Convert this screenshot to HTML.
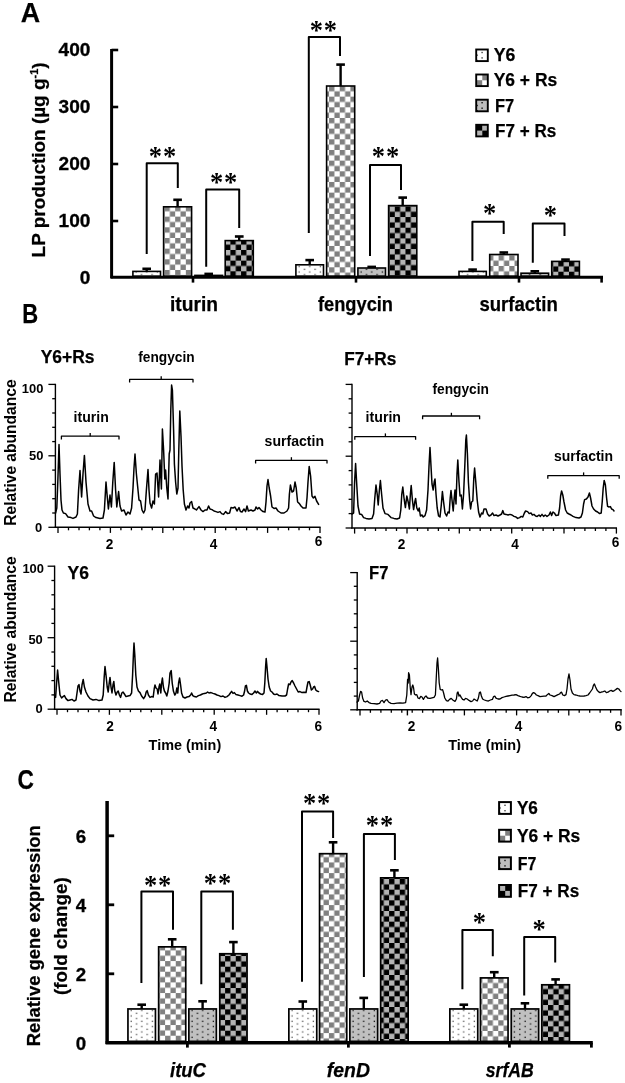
<!DOCTYPE html>
<html lang="en"><head><meta charset="utf-8"><title>Figure</title>
<style>html,body{margin:0;padding:0;background:#fff}svg{display:block}</style></head>
<body>
<svg width="625" height="1083" viewBox="0 0 625 1083">
<defs>
<pattern id="ck1" width="10.666" height="10.666" patternUnits="userSpaceOnUse"><rect width="10.666" height="10.666" fill="#fff"/><rect x="0" y="0" width="5.333" height="5.333" fill="#808080"/><rect x="5.333" y="5.333" width="5.333" height="5.333" fill="#808080"/></pattern>
<pattern id="ck2" width="10.666" height="10.666" patternUnits="userSpaceOnUse"><rect width="10.666" height="10.666" fill="#b4b4b4"/><rect x="0" y="0" width="5.333" height="5.333" fill="#000"/><rect x="5.333" y="5.333" width="5.333" height="5.333" fill="#000"/></pattern>
<pattern id="dt1" width="10.666" height="5.333" patternUnits="userSpaceOnUse"><rect width="10.666" height="5.333" fill="#fff"/><rect x="2.6" y="0.6" width="1.25" height="1.25" fill="#484848"/><rect x="7.933" y="3.267" width="1.25" height="1.25" fill="#484848"/></pattern>
<pattern id="dt2" width="10.666" height="5.333" patternUnits="userSpaceOnUse"><rect width="10.666" height="5.333" fill="#c0c0c0"/><rect x="2.6" y="0.6" width="1.25" height="1.25" fill="#000"/><rect x="7.933" y="3.267" width="1.25" height="1.25" fill="#000"/></pattern>
</defs>
<rect width="625" height="1083" fill="#fff"/>
<text x="20.8" y="22.3" font-size="27.29" font-weight="bold" font-style="normal" text-anchor="start" fill="#000" font-family='"Liberation Sans", sans-serif' textLength="19.4" lengthAdjust="spacingAndGlyphs" stroke="#000" stroke-width="0.25">A</text>
<line x1="111.6" y1="49.0" x2="111.6" y2="278.3" stroke="#000" stroke-width="3" stroke-linecap="butt"/>
<line x1="110.6" y1="277.3" x2="603.0" y2="277.3" stroke="#000" stroke-width="3" stroke-linecap="butt"/>
<line x1="111.6" y1="50.0" x2="118.2" y2="50.0" stroke="#000" stroke-width="2.6" stroke-linecap="butt"/>
<text x="90.4" y="56.4" font-size="18.2" font-weight="bold" font-style="normal" text-anchor="end" fill="#000" font-family='"Liberation Sans", sans-serif' stroke="#000" stroke-width="0.3" textLength="31.8" lengthAdjust="spacingAndGlyphs">400</text>
<line x1="111.6" y1="107.0" x2="118.2" y2="107.0" stroke="#000" stroke-width="2.6" stroke-linecap="butt"/>
<text x="90.4" y="113.4" font-size="18.2" font-weight="bold" font-style="normal" text-anchor="end" fill="#000" font-family='"Liberation Sans", sans-serif' stroke="#000" stroke-width="0.3" textLength="31.8" lengthAdjust="spacingAndGlyphs">300</text>
<line x1="111.6" y1="164.0" x2="118.2" y2="164.0" stroke="#000" stroke-width="2.6" stroke-linecap="butt"/>
<text x="90.4" y="170.4" font-size="18.2" font-weight="bold" font-style="normal" text-anchor="end" fill="#000" font-family='"Liberation Sans", sans-serif' stroke="#000" stroke-width="0.3" textLength="31.8" lengthAdjust="spacingAndGlyphs">200</text>
<line x1="111.6" y1="221.0" x2="118.2" y2="221.0" stroke="#000" stroke-width="2.6" stroke-linecap="butt"/>
<text x="90.4" y="227.4" font-size="18.2" font-weight="bold" font-style="normal" text-anchor="end" fill="#000" font-family='"Liberation Sans", sans-serif' stroke="#000" stroke-width="0.3" textLength="31.8" lengthAdjust="spacingAndGlyphs">100</text>
<text x="90.4" y="284.4" font-size="18.2" font-weight="bold" font-style="normal" text-anchor="end" fill="#000" font-family='"Liberation Sans", sans-serif' stroke="#000" stroke-width="0.3" textLength="10.6" lengthAdjust="spacingAndGlyphs">0</text>
<line x1="193.0" y1="277.3" x2="193.0" y2="282.6" stroke="#000" stroke-width="2.6" stroke-linecap="butt"/>
<line x1="356.0" y1="277.3" x2="356.0" y2="282.6" stroke="#000" stroke-width="2.6" stroke-linecap="butt"/>
<line x1="519.0" y1="277.3" x2="519.0" y2="282.6" stroke="#000" stroke-width="2.6" stroke-linecap="butt"/>
<line x1="601.6" y1="277.3" x2="601.6" y2="282.6" stroke="#000" stroke-width="2.6" stroke-linecap="butt"/>
<text transform="translate(45.2,257.4) rotate(-90)" font-size="19" stroke="#000" stroke-width="0.25" font-weight="bold" font-family='"Liberation Sans", sans-serif' textLength="195" lengthAdjust="spacingAndGlyphs">LP production (µg g<tspan font-size="11" dy="-7">-1</tspan><tspan dy="7">)</tspan></text>
<g transform="translate(132.90,276.10)"><rect x="0.00" y="-4.70" width="27.6" height="4.7" fill="url(#dt1)" stroke="#000" stroke-width="1.6"/></g>
<line x1="146.7" y1="271.4" x2="146.7" y2="268.5" stroke="#000" stroke-width="2.4" stroke-linecap="butt"/>
<line x1="142.4" y1="268.8" x2="151.0" y2="268.8" stroke="#000" stroke-width="2.6" stroke-linecap="butt"/>
<g transform="translate(164.50,205.97)"><rect x="-0.90" y="0.83" width="28.0" height="69.3" fill="url(#ck1)" stroke="#000" stroke-width="1.6"/></g>
<line x1="177.6" y1="206.8" x2="177.6" y2="199.5" stroke="#000" stroke-width="2.4" stroke-linecap="butt"/>
<line x1="173.3" y1="199.8" x2="181.9" y2="199.8" stroke="#000" stroke-width="2.6" stroke-linecap="butt"/>
<g transform="translate(194.90,276.10)"><rect x="0.00" y="-0.70" width="27.6" height="0.7" fill="url(#dt2)" stroke="#000" stroke-width="1.6"/></g>
<line x1="208.7" y1="275.4" x2="208.7" y2="273.6" stroke="#000" stroke-width="2.4" stroke-linecap="butt"/>
<line x1="204.4" y1="273.9" x2="213.0" y2="273.9" stroke="#000" stroke-width="2.6" stroke-linecap="butt"/>
<g transform="translate(230.40,239.30)"><rect x="-5.20" y="1.30" width="28.1" height="35.5" fill="url(#ck2)" stroke="#000" stroke-width="1.6"/></g>
<line x1="239.2" y1="240.6" x2="239.2" y2="236.2" stroke="#000" stroke-width="2.4" stroke-linecap="butt"/>
<line x1="234.9" y1="236.5" x2="243.6" y2="236.5" stroke="#000" stroke-width="2.6" stroke-linecap="butt"/>
<g transform="translate(295.90,276.10)"><rect x="0.00" y="-11.30" width="27.6" height="11.3" fill="url(#dt1)" stroke="#000" stroke-width="1.6"/></g>
<line x1="309.7" y1="264.8" x2="309.7" y2="259.8" stroke="#000" stroke-width="2.4" stroke-linecap="butt"/>
<line x1="305.4" y1="260.1" x2="314.0" y2="260.1" stroke="#000" stroke-width="2.6" stroke-linecap="butt"/>
<g transform="translate(329.07,85.97)"><rect x="-2.47" y="0.03" width="28.1" height="190.1" fill="url(#ck1)" stroke="#000" stroke-width="1.6"/></g>
<line x1="340.6" y1="86.0" x2="340.6" y2="64.3" stroke="#000" stroke-width="2.4" stroke-linecap="butt"/>
<line x1="336.3" y1="64.6" x2="344.9" y2="64.6" stroke="#000" stroke-width="2.6" stroke-linecap="butt"/>
<g transform="translate(357.90,276.10)"><rect x="0.00" y="-8.10" width="27.6" height="8.1" fill="url(#dt2)" stroke="#000" stroke-width="1.6"/></g>
<line x1="371.7" y1="268.0" x2="371.7" y2="266.6" stroke="#000" stroke-width="2.4" stroke-linecap="butt"/>
<line x1="367.4" y1="266.9" x2="376.0" y2="266.9" stroke="#000" stroke-width="2.6" stroke-linecap="butt"/>
<g transform="translate(394.80,206.40)"><rect x="-6.20" y="-0.80" width="28.2" height="70.5" fill="url(#ck2)" stroke="#000" stroke-width="1.6"/></g>
<line x1="402.7" y1="205.6" x2="402.7" y2="197.3" stroke="#000" stroke-width="2.4" stroke-linecap="butt"/>
<line x1="398.4" y1="197.6" x2="407.0" y2="197.6" stroke="#000" stroke-width="2.6" stroke-linecap="butt"/>
<g transform="translate(459.00,276.10)"><rect x="0.00" y="-4.70" width="27.3" height="4.7" fill="url(#dt1)" stroke="#000" stroke-width="1.6"/></g>
<line x1="472.6" y1="271.4" x2="472.6" y2="269.3" stroke="#000" stroke-width="2.4" stroke-linecap="butt"/>
<line x1="468.3" y1="269.6" x2="476.9" y2="269.6" stroke="#000" stroke-width="2.6" stroke-linecap="butt"/>
<g transform="translate(498.60,255.30)"><rect x="-8.90" y="-0.80" width="28.3" height="21.6" fill="url(#ck1)" stroke="#000" stroke-width="1.6"/></g>
<line x1="503.8" y1="254.5" x2="503.8" y2="252.2" stroke="#000" stroke-width="2.4" stroke-linecap="butt"/>
<line x1="499.5" y1="252.5" x2="508.1" y2="252.5" stroke="#000" stroke-width="2.6" stroke-linecap="butt"/>
<g transform="translate(521.00,276.10)"><rect x="0.00" y="-2.90" width="27.6" height="2.9" fill="url(#dt2)" stroke="#000" stroke-width="1.6"/></g>
<line x1="534.8" y1="273.2" x2="534.8" y2="271.0" stroke="#000" stroke-width="2.4" stroke-linecap="butt"/>
<line x1="530.5" y1="271.3" x2="539.1" y2="271.3" stroke="#000" stroke-width="2.6" stroke-linecap="butt"/>
<g transform="translate(558.30,261.05)"><rect x="-6.60" y="0.35" width="27.7" height="14.7" fill="url(#ck2)" stroke="#000" stroke-width="1.6"/></g>
<line x1="565.5" y1="261.4" x2="565.5" y2="259.3" stroke="#000" stroke-width="2.4" stroke-linecap="butt"/>
<line x1="561.2" y1="259.6" x2="569.8" y2="259.6" stroke="#000" stroke-width="2.6" stroke-linecap="butt"/>
<polyline points="146.7,254.0 146.7,163.2 177.8,163.2 177.8,188.0" fill="none" stroke="#000" stroke-width="2" stroke-linejoin="round" stroke-linecap="butt"/>
<polyline points="206.2,266.7 206.2,189.6 239.2,189.6 239.2,228.0" fill="none" stroke="#000" stroke-width="2" stroke-linejoin="round" stroke-linecap="butt"/>
<polyline points="308.8,233.0 308.8,37.0 340.0,37.0 340.0,56.0" fill="none" stroke="#000" stroke-width="2" stroke-linejoin="round" stroke-linecap="butt"/>
<polyline points="370.0,256.0 370.0,165.0 401.0,165.0 401.0,190.0" fill="none" stroke="#000" stroke-width="2" stroke-linejoin="round" stroke-linecap="butt"/>
<polyline points="472.4,261.0 472.4,221.8 503.7,221.8 503.7,234.0" fill="none" stroke="#000" stroke-width="2" stroke-linejoin="round" stroke-linecap="butt"/>
<polyline points="532.8,262.8 532.8,223.4 564.5,223.4 564.5,236.0" fill="none" stroke="#000" stroke-width="2" stroke-linejoin="round" stroke-linecap="butt"/>
<text x="162.9" y="165.2" font-size="26.5" font-weight="bold" font-style="normal" text-anchor="middle" fill="#000" font-family='"Liberation Serif", serif' letter-spacing="0.9">**</text>
<text x="224.1" y="190.5" font-size="26.5" font-weight="bold" font-style="normal" text-anchor="middle" fill="#000" font-family='"Liberation Serif", serif' letter-spacing="0.9">**</text>
<text x="323.8" y="39.2" font-size="26.5" font-weight="bold" font-style="normal" text-anchor="middle" fill="#000" font-family='"Liberation Serif", serif' letter-spacing="0.9">**</text>
<text x="385.9" y="164.6" font-size="26.5" font-weight="bold" font-style="normal" text-anchor="middle" fill="#000" font-family='"Liberation Serif", serif' letter-spacing="0.9">**</text>
<text x="490.0" y="221.9" font-size="26.5" font-weight="bold" font-style="normal" text-anchor="middle" fill="#000" font-family='"Liberation Serif", serif' letter-spacing="0.9">*</text>
<text x="550.8" y="223.5" font-size="26.5" font-weight="bold" font-style="normal" text-anchor="middle" fill="#000" font-family='"Liberation Serif", serif' letter-spacing="0.9">*</text>
<text x="170.0" y="311.3" font-size="19.8" font-weight="bold" font-style="normal" text-anchor="start" fill="#000" font-family='"Liberation Sans", sans-serif' textLength="48.0" lengthAdjust="spacingAndGlyphs" stroke="#000" stroke-width="0.25">iturin</text>
<text x="318.0" y="311.3" font-size="19.8" font-weight="bold" font-style="normal" text-anchor="start" fill="#000" font-family='"Liberation Sans", sans-serif' textLength="75.0" lengthAdjust="spacingAndGlyphs" stroke="#000" stroke-width="0.25">fengycin</text>
<text x="479.4" y="311.3" font-size="19.8" font-weight="bold" font-style="normal" text-anchor="start" fill="#000" font-family='"Liberation Sans", sans-serif' textLength="78.4" lengthAdjust="spacingAndGlyphs" stroke="#000" stroke-width="0.25">surfactin</text>
<rect x="476.2" y="49.5" width="11.6" height="11.6" fill="#fff"/>
<rect x="481.4" y="51.8" width="1.4" height="1.4" fill="#444"/>
<rect x="481.4" y="57.2" width="1.4" height="1.4" fill="#444"/>
<rect x="476.4" y="54.5" width="1.4" height="1.4" fill="#444"/>
<rect x="476.4" y="59.8" width="1.4" height="1.4" fill="#444"/>
<rect x="476.2" y="49.5" width="11.6" height="11.6" fill="none" stroke="#000" stroke-width="1.9"/>
<text x="493.7" y="61.3" font-size="18.83" font-weight="bold" font-style="normal" text-anchor="start" fill="#000" font-family='"Liberation Sans", sans-serif' textLength="21.6" lengthAdjust="spacingAndGlyphs" stroke="#000" stroke-width="0.25">Y6</text>
<rect x="476.2" y="74.5" width="11.6" height="11.6" fill="#fff"/>
<rect x="482.3" y="74.5" width="5.6" height="5.8" fill="#808080"/><rect x="476.2" y="80.2" width="6.0" height="5.8" fill="#808080"/>
<rect x="476.2" y="74.5" width="11.6" height="11.6" fill="none" stroke="#000" stroke-width="1.9"/>
<text x="493.7" y="86.3" font-size="18.83" font-weight="bold" font-style="normal" text-anchor="start" fill="#000" font-family='"Liberation Sans", sans-serif' textLength="63.5" lengthAdjust="spacingAndGlyphs" stroke="#000" stroke-width="0.25">Y6 + Rs</text>
<rect x="476.2" y="99.7" width="11.6" height="11.6" fill="#bdbdbd"/>
<rect x="481.4" y="102.0" width="1.4" height="1.4" fill="#111"/>
<rect x="481.4" y="107.5" width="1.4" height="1.4" fill="#111"/>
<rect x="476.4" y="104.8" width="1.4" height="1.4" fill="#111"/>
<rect x="476.4" y="110.0" width="1.4" height="1.4" fill="#111"/>
<rect x="476.2" y="99.7" width="11.6" height="11.6" fill="none" stroke="#000" stroke-width="1.9"/>
<text x="495.0" y="111.5" font-size="18.83" font-weight="bold" font-style="normal" text-anchor="start" fill="#000" font-family='"Liberation Sans", sans-serif' textLength="19.2" lengthAdjust="spacingAndGlyphs" stroke="#000" stroke-width="0.25">F7</text>
<rect x="476.2" y="124.8" width="11.6" height="11.6" fill="#b4b4b4"/>
<rect x="476.2" y="124.8" width="6.0" height="5.8" fill="#000"/><rect x="482.3" y="130.6" width="5.6" height="5.8" fill="#000"/>
<rect x="476.2" y="124.8" width="11.6" height="11.6" fill="none" stroke="#000" stroke-width="1.9"/>
<text x="495.0" y="136.6" font-size="18.83" font-weight="bold" font-style="normal" text-anchor="start" fill="#000" font-family='"Liberation Sans", sans-serif' textLength="61.2" lengthAdjust="spacingAndGlyphs" stroke="#000" stroke-width="0.25">F7 + Rs</text>
<text x="22.3" y="323.0" font-size="27.18" font-weight="bold" font-style="normal" text-anchor="start" fill="#000" font-family='"Liberation Sans", sans-serif' textLength="15.9" lengthAdjust="spacingAndGlyphs" stroke="#000" stroke-width="0.25">B</text>
<text x="40.7" y="363.1" font-size="19.26" font-weight="bold" font-style="normal" text-anchor="start" fill="#000" font-family='"Liberation Sans", sans-serif' textLength="53.9" lengthAdjust="spacingAndGlyphs" stroke="#000" stroke-width="0.25">Y6+Rs</text>
<text x="344.2" y="364.7" font-size="19.05" font-weight="bold" font-style="normal" text-anchor="start" fill="#000" font-family='"Liberation Sans", sans-serif' textLength="52.2" lengthAdjust="spacingAndGlyphs" stroke="#000" stroke-width="0.25">F7+Rs</text>
<text x="67.6" y="578.9" font-size="17.98" font-weight="bold" font-style="normal" text-anchor="start" fill="#000" font-family='"Liberation Sans", sans-serif' textLength="21.4" lengthAdjust="spacingAndGlyphs" stroke="#000" stroke-width="0.25">Y6</text>
<text x="369.0" y="579.3" font-size="17.98" font-weight="bold" font-style="normal" text-anchor="start" fill="#000" font-family='"Liberation Sans", sans-serif' textLength="19.4" lengthAdjust="spacingAndGlyphs" stroke="#000" stroke-width="0.25">F7</text>
<line x1="55.4" y1="383.8" x2="55.4" y2="527.9" stroke="#000" stroke-width="1.4" stroke-linecap="butt"/>
<line x1="54.7" y1="527.3" x2="320.6" y2="527.3" stroke="#000" stroke-width="1.4" stroke-linecap="butt"/>
<line x1="48.4" y1="384.4" x2="55.4" y2="384.4" stroke="#000" stroke-width="1.3" stroke-linecap="butt"/>
<line x1="52.2" y1="398.7" x2="55.4" y2="398.7" stroke="#000" stroke-width="1.3" stroke-linecap="butt"/>
<line x1="52.2" y1="413.0" x2="55.4" y2="413.0" stroke="#000" stroke-width="1.3" stroke-linecap="butt"/>
<line x1="52.2" y1="427.3" x2="55.4" y2="427.3" stroke="#000" stroke-width="1.3" stroke-linecap="butt"/>
<line x1="52.2" y1="441.6" x2="55.4" y2="441.6" stroke="#000" stroke-width="1.3" stroke-linecap="butt"/>
<line x1="48.4" y1="455.8" x2="55.4" y2="455.8" stroke="#000" stroke-width="1.3" stroke-linecap="butt"/>
<line x1="52.2" y1="470.1" x2="55.4" y2="470.1" stroke="#000" stroke-width="1.3" stroke-linecap="butt"/>
<line x1="52.2" y1="484.4" x2="55.4" y2="484.4" stroke="#000" stroke-width="1.3" stroke-linecap="butt"/>
<line x1="52.2" y1="498.7" x2="55.4" y2="498.7" stroke="#000" stroke-width="1.3" stroke-linecap="butt"/>
<line x1="52.2" y1="513.0" x2="55.4" y2="513.0" stroke="#000" stroke-width="1.3" stroke-linecap="butt"/>
<line x1="48.4" y1="527.3" x2="55.4" y2="527.3" stroke="#000" stroke-width="1.3" stroke-linecap="butt"/>
<line x1="58.0" y1="527.3" x2="58.0" y2="532.9" stroke="#000" stroke-width="1.3" stroke-linecap="butt"/>
<line x1="68.5" y1="527.3" x2="68.5" y2="530.3" stroke="#000" stroke-width="1.3" stroke-linecap="butt"/>
<line x1="79.0" y1="527.3" x2="79.0" y2="530.3" stroke="#000" stroke-width="1.3" stroke-linecap="butt"/>
<line x1="89.4" y1="527.3" x2="89.4" y2="530.3" stroke="#000" stroke-width="1.3" stroke-linecap="butt"/>
<line x1="99.9" y1="527.3" x2="99.9" y2="530.3" stroke="#000" stroke-width="1.3" stroke-linecap="butt"/>
<line x1="110.4" y1="527.3" x2="110.4" y2="532.9" stroke="#000" stroke-width="1.3" stroke-linecap="butt"/>
<line x1="120.9" y1="527.3" x2="120.9" y2="530.3" stroke="#000" stroke-width="1.3" stroke-linecap="butt"/>
<line x1="131.4" y1="527.3" x2="131.4" y2="530.3" stroke="#000" stroke-width="1.3" stroke-linecap="butt"/>
<line x1="141.8" y1="527.3" x2="141.8" y2="530.3" stroke="#000" stroke-width="1.3" stroke-linecap="butt"/>
<line x1="152.3" y1="527.3" x2="152.3" y2="530.3" stroke="#000" stroke-width="1.3" stroke-linecap="butt"/>
<line x1="162.8" y1="527.3" x2="162.8" y2="532.9" stroke="#000" stroke-width="1.3" stroke-linecap="butt"/>
<line x1="173.3" y1="527.3" x2="173.3" y2="530.3" stroke="#000" stroke-width="1.3" stroke-linecap="butt"/>
<line x1="183.8" y1="527.3" x2="183.8" y2="530.3" stroke="#000" stroke-width="1.3" stroke-linecap="butt"/>
<line x1="194.2" y1="527.3" x2="194.2" y2="530.3" stroke="#000" stroke-width="1.3" stroke-linecap="butt"/>
<line x1="204.7" y1="527.3" x2="204.7" y2="530.3" stroke="#000" stroke-width="1.3" stroke-linecap="butt"/>
<line x1="215.2" y1="527.3" x2="215.2" y2="532.9" stroke="#000" stroke-width="1.3" stroke-linecap="butt"/>
<line x1="225.7" y1="527.3" x2="225.7" y2="530.3" stroke="#000" stroke-width="1.3" stroke-linecap="butt"/>
<line x1="236.2" y1="527.3" x2="236.2" y2="530.3" stroke="#000" stroke-width="1.3" stroke-linecap="butt"/>
<line x1="246.6" y1="527.3" x2="246.6" y2="530.3" stroke="#000" stroke-width="1.3" stroke-linecap="butt"/>
<line x1="257.1" y1="527.3" x2="257.1" y2="530.3" stroke="#000" stroke-width="1.3" stroke-linecap="butt"/>
<line x1="267.6" y1="527.3" x2="267.6" y2="532.9" stroke="#000" stroke-width="1.3" stroke-linecap="butt"/>
<line x1="278.1" y1="527.3" x2="278.1" y2="530.3" stroke="#000" stroke-width="1.3" stroke-linecap="butt"/>
<line x1="288.6" y1="527.3" x2="288.6" y2="530.3" stroke="#000" stroke-width="1.3" stroke-linecap="butt"/>
<line x1="299.0" y1="527.3" x2="299.0" y2="530.3" stroke="#000" stroke-width="1.3" stroke-linecap="butt"/>
<line x1="309.5" y1="527.3" x2="309.5" y2="530.3" stroke="#000" stroke-width="1.3" stroke-linecap="butt"/>
<line x1="320.0" y1="527.3" x2="320.0" y2="532.9" stroke="#000" stroke-width="1.3" stroke-linecap="butt"/>
<polyline points="55.6,513.0 56.8,508.0 57.8,482.0 59.0,444.4 60.0,474.0 61.0,500.0 62.0,510.0 63.4,513.0 65.6,513.6 68.0,517.0 71.0,517.6 73.0,518.4 76.0,517.0 77.4,514.0 78.6,490.0 80.0,470.6 81.6,497.0 83.0,474.0 84.4,455.4 86.0,482.0 88.0,504.0 90.0,511.0 91.6,511.0 93.6,516.0 96.0,517.6 100.0,518.4 103.0,518.0 104.4,510.0 106.0,482.0 107.0,494.0 108.4,509.0 110.0,495.0 111.4,507.0 112.8,482.0 114.2,462.4 115.6,490.0 116.8,507.0 118.6,491.6 120.0,506.0 121.6,511.0 124.0,510.0 126.0,515.0 128.0,512.0 130.0,514.0 131.6,508.0 133.0,488.0 134.0,468.0 135.0,454.0 136.4,474.0 137.6,486.0 139.0,500.0 140.6,501.0 142.0,510.0 143.6,513.0 145.0,510.0 146.4,490.0 148.0,469.6 149.0,490.0 150.0,503.0 151.6,508.0 153.0,501.0 154.4,504.0 155.6,474.0 157.0,473.0 158.6,497.0 160.0,460.0 161.4,489.0 162.4,429.0 163.6,450.0 164.8,479.0 165.6,470.0 166.8,488.0 168.0,499.0 169.2,454.0 170.0,450.0 170.8,410.0 171.6,385.0 172.4,390.0 173.6,430.0 174.4,464.0 175.6,482.0 176.8,494.0 178.0,488.0 178.8,450.0 179.8,411.0 181.0,436.0 182.0,466.0 183.2,490.0 184.4,504.0 186.0,510.0 187.6,506.0 189.0,508.0 190.0,503.0 191.6,501.6 193.0,508.0 195.0,509.0 196.4,510.0 199.0,506.6 201.0,510.0 203.0,511.6 205.0,510.0 207.0,510.0 208.6,506.0 210.0,509.0 212.0,509.6 214.0,511.0 216.0,511.6 218.0,512.4 220.0,511.6 221.6,513.6 223.6,514.4 225.6,511.6 227.6,513.6 229.6,513.0 231.0,507.6 233.0,508.0 235.0,507.0 237.0,511.0 239.0,507.6 240.4,511.6 242.0,512.0 244.0,509.0 245.6,511.6 247.0,506.0 248.4,511.0 251.0,510.0 253.0,511.0 255.0,510.0 256.0,507.0 257.6,509.0 259.0,507.6 261.0,510.0 263.0,511.6 265.0,512.0 266.0,502.0 267.0,486.0 268.0,479.6 269.2,488.0 270.6,496.0 272.0,507.0 274.0,508.4 276.0,508.0 278.0,511.0 281.0,513.0 284.0,513.0 287.0,511.0 288.6,508.0 289.4,494.0 290.4,485.0 292.0,492.0 293.6,491.0 295.0,482.0 296.2,488.0 297.6,502.0 299.4,503.6 301.0,506.0 303.0,508.0 306.0,508.0 307.0,498.0 308.0,482.0 309.2,466.4 310.6,476.0 312.0,496.0 313.4,498.0 315.0,496.4 316.6,501.0 318.6,504.4" fill="none" stroke="#000" stroke-width="1.5" stroke-linejoin="round" stroke-linecap="round"/>
<line x1="352.0" y1="383.8" x2="352.0" y2="528.6" stroke="#000" stroke-width="1.4" stroke-linecap="butt"/>
<line x1="351.3" y1="528.0" x2="617.0" y2="528.0" stroke="#000" stroke-width="1.4" stroke-linecap="butt"/>
<line x1="345.6" y1="384.4" x2="352.0" y2="384.4" stroke="#000" stroke-width="1.3" stroke-linecap="butt"/>
<line x1="348.6" y1="398.8" x2="352.0" y2="398.8" stroke="#000" stroke-width="1.3" stroke-linecap="butt"/>
<line x1="348.6" y1="413.1" x2="352.0" y2="413.1" stroke="#000" stroke-width="1.3" stroke-linecap="butt"/>
<line x1="348.6" y1="427.5" x2="352.0" y2="427.5" stroke="#000" stroke-width="1.3" stroke-linecap="butt"/>
<line x1="348.6" y1="441.8" x2="352.0" y2="441.8" stroke="#000" stroke-width="1.3" stroke-linecap="butt"/>
<line x1="345.6" y1="456.2" x2="352.0" y2="456.2" stroke="#000" stroke-width="1.3" stroke-linecap="butt"/>
<line x1="348.6" y1="470.6" x2="352.0" y2="470.6" stroke="#000" stroke-width="1.3" stroke-linecap="butt"/>
<line x1="348.6" y1="484.9" x2="352.0" y2="484.9" stroke="#000" stroke-width="1.3" stroke-linecap="butt"/>
<line x1="348.6" y1="499.3" x2="352.0" y2="499.3" stroke="#000" stroke-width="1.3" stroke-linecap="butt"/>
<line x1="348.6" y1="513.6" x2="352.0" y2="513.6" stroke="#000" stroke-width="1.3" stroke-linecap="butt"/>
<line x1="345.6" y1="528.0" x2="352.0" y2="528.0" stroke="#000" stroke-width="1.3" stroke-linecap="butt"/>
<line x1="354.6" y1="528.0" x2="354.6" y2="533.6" stroke="#000" stroke-width="1.3" stroke-linecap="butt"/>
<line x1="365.1" y1="528.0" x2="365.1" y2="531.0" stroke="#000" stroke-width="1.3" stroke-linecap="butt"/>
<line x1="375.5" y1="528.0" x2="375.5" y2="531.0" stroke="#000" stroke-width="1.3" stroke-linecap="butt"/>
<line x1="386.0" y1="528.0" x2="386.0" y2="531.0" stroke="#000" stroke-width="1.3" stroke-linecap="butt"/>
<line x1="396.5" y1="528.0" x2="396.5" y2="531.0" stroke="#000" stroke-width="1.3" stroke-linecap="butt"/>
<line x1="407.0" y1="528.0" x2="407.0" y2="533.6" stroke="#000" stroke-width="1.3" stroke-linecap="butt"/>
<line x1="417.4" y1="528.0" x2="417.4" y2="531.0" stroke="#000" stroke-width="1.3" stroke-linecap="butt"/>
<line x1="427.9" y1="528.0" x2="427.9" y2="531.0" stroke="#000" stroke-width="1.3" stroke-linecap="butt"/>
<line x1="438.4" y1="528.0" x2="438.4" y2="531.0" stroke="#000" stroke-width="1.3" stroke-linecap="butt"/>
<line x1="448.8" y1="528.0" x2="448.8" y2="531.0" stroke="#000" stroke-width="1.3" stroke-linecap="butt"/>
<line x1="459.3" y1="528.0" x2="459.3" y2="533.6" stroke="#000" stroke-width="1.3" stroke-linecap="butt"/>
<line x1="469.8" y1="528.0" x2="469.8" y2="531.0" stroke="#000" stroke-width="1.3" stroke-linecap="butt"/>
<line x1="480.2" y1="528.0" x2="480.2" y2="531.0" stroke="#000" stroke-width="1.3" stroke-linecap="butt"/>
<line x1="490.7" y1="528.0" x2="490.7" y2="531.0" stroke="#000" stroke-width="1.3" stroke-linecap="butt"/>
<line x1="501.2" y1="528.0" x2="501.2" y2="531.0" stroke="#000" stroke-width="1.3" stroke-linecap="butt"/>
<line x1="511.7" y1="528.0" x2="511.7" y2="533.6" stroke="#000" stroke-width="1.3" stroke-linecap="butt"/>
<line x1="522.1" y1="528.0" x2="522.1" y2="531.0" stroke="#000" stroke-width="1.3" stroke-linecap="butt"/>
<line x1="532.6" y1="528.0" x2="532.6" y2="531.0" stroke="#000" stroke-width="1.3" stroke-linecap="butt"/>
<line x1="543.1" y1="528.0" x2="543.1" y2="531.0" stroke="#000" stroke-width="1.3" stroke-linecap="butt"/>
<line x1="553.5" y1="528.0" x2="553.5" y2="531.0" stroke="#000" stroke-width="1.3" stroke-linecap="butt"/>
<line x1="564.0" y1="528.0" x2="564.0" y2="533.6" stroke="#000" stroke-width="1.3" stroke-linecap="butt"/>
<line x1="574.5" y1="528.0" x2="574.5" y2="531.0" stroke="#000" stroke-width="1.3" stroke-linecap="butt"/>
<line x1="584.9" y1="528.0" x2="584.9" y2="531.0" stroke="#000" stroke-width="1.3" stroke-linecap="butt"/>
<line x1="595.4" y1="528.0" x2="595.4" y2="531.0" stroke="#000" stroke-width="1.3" stroke-linecap="butt"/>
<line x1="605.9" y1="528.0" x2="605.9" y2="531.0" stroke="#000" stroke-width="1.3" stroke-linecap="butt"/>
<line x1="616.4" y1="528.0" x2="616.4" y2="533.6" stroke="#000" stroke-width="1.3" stroke-linecap="butt"/>
<polyline points="352.0,514.0 353.6,513.0 354.6,482.0 355.6,463.6 356.6,482.0 358.0,506.0 359.6,514.0 361.6,514.4 363.6,517.6 366.0,518.4 369.0,519.0 372.0,518.4 373.6,514.0 374.8,498.0 376.0,485.0 377.2,494.0 378.2,505.0 379.4,490.0 380.4,480.6 381.6,494.0 383.0,508.0 385.0,513.6 388.0,514.4 391.0,517.6 394.0,518.4 397.0,519.0 399.6,518.0 400.8,510.0 401.8,494.0 402.8,487.0 404.0,498.0 405.4,507.6 406.8,496.0 408.2,502.0 409.4,509.0 410.4,494.0 411.2,485.6 412.4,500.0 413.6,509.6 414.8,502.0 415.6,498.4 416.8,508.0 418.2,511.0 419.2,508.0 420.4,516.0 422.0,515.0 423.2,517.0 425.0,515.6 426.6,510.0 428.0,490.0 429.0,466.0 430.0,447.6 431.0,466.0 432.0,484.0 433.2,490.0 434.2,482.0 435.0,479.0 436.0,494.0 437.2,508.0 438.6,516.0 440.0,517.0 441.2,506.0 442.4,491.6 443.6,502.0 445.0,513.0 446.6,516.0 448.0,512.0 449.2,513.0 450.2,498.0 451.0,490.6 452.0,500.0 453.2,511.0 454.2,498.0 455.0,490.0 456.0,504.0 457.0,474.0 457.8,460.0 459.0,482.0 460.0,496.0 461.2,495.0 462.4,509.0 463.6,494.0 464.8,466.0 465.8,440.0 466.4,435.0 467.4,454.0 468.4,482.0 469.6,500.0 470.6,509.0 471.6,502.0 472.8,501.0 473.8,478.0 474.6,468.0 475.8,482.0 477.2,500.0 478.6,512.0 480.0,517.0 481.6,513.0 482.8,514.0 484.0,509.0 486.0,509.0 487.6,514.0 489.2,516.0 491.0,515.0 492.6,513.0 494.0,515.6 496.0,515.0 498.0,516.0 500.0,515.0 501.6,514.0 502.8,510.6 504.0,514.0 506.0,514.4 508.0,515.0 510.0,514.4 512.0,515.0 514.0,516.4 516.0,517.0 517.6,518.4 519.6,517.6 521.2,516.4 522.8,517.0 524.4,513.0 525.6,511.0 527.6,511.6 529.2,513.6 531.0,513.0 532.4,515.0 534.0,514.4 535.6,516.0 537.2,516.4 539.0,515.0 540.4,516.4 542.0,514.4 543.6,516.4 545.2,515.0 547.0,516.4 549.0,515.0 550.4,512.0 551.6,515.6 553.0,512.0 554.4,513.0 556.0,515.6 558.4,515.0 559.6,508.0 560.6,496.0 561.6,491.0 562.8,495.0 564.0,502.0 565.6,510.0 567.2,513.0 569.0,514.0 571.0,515.0 573.0,516.4 576.0,517.6 579.0,518.0 581.0,517.0 582.4,513.0 583.6,504.0 584.6,499.6 586.4,499.0 588.0,497.0 589.4,493.0 590.6,498.0 592.0,506.0 593.6,509.0 595.6,511.0 597.6,512.0 599.6,513.6 601.2,513.0 602.2,502.0 603.2,488.0 604.2,480.4 605.4,485.0 606.6,498.0 607.6,506.4 609.0,507.0 610.4,506.6 611.6,509.0 613.0,509.6 614.0,511.0" fill="none" stroke="#000" stroke-width="1.5" stroke-linejoin="round" stroke-linecap="round"/>
<line x1="54.6" y1="565.6" x2="54.6" y2="709.8" stroke="#000" stroke-width="1.4" stroke-linecap="butt"/>
<line x1="53.9" y1="709.2" x2="319.6" y2="709.2" stroke="#000" stroke-width="1.4" stroke-linecap="butt"/>
<line x1="47.6" y1="566.2" x2="54.6" y2="566.2" stroke="#000" stroke-width="1.3" stroke-linecap="butt"/>
<line x1="51.4" y1="580.5" x2="54.6" y2="580.5" stroke="#000" stroke-width="1.3" stroke-linecap="butt"/>
<line x1="51.4" y1="594.8" x2="54.6" y2="594.8" stroke="#000" stroke-width="1.3" stroke-linecap="butt"/>
<line x1="51.4" y1="609.1" x2="54.6" y2="609.1" stroke="#000" stroke-width="1.3" stroke-linecap="butt"/>
<line x1="51.4" y1="623.4" x2="54.6" y2="623.4" stroke="#000" stroke-width="1.3" stroke-linecap="butt"/>
<line x1="47.6" y1="637.7" x2="54.6" y2="637.7" stroke="#000" stroke-width="1.3" stroke-linecap="butt"/>
<line x1="51.4" y1="652.0" x2="54.6" y2="652.0" stroke="#000" stroke-width="1.3" stroke-linecap="butt"/>
<line x1="51.4" y1="666.3" x2="54.6" y2="666.3" stroke="#000" stroke-width="1.3" stroke-linecap="butt"/>
<line x1="51.4" y1="680.6" x2="54.6" y2="680.6" stroke="#000" stroke-width="1.3" stroke-linecap="butt"/>
<line x1="51.4" y1="694.9" x2="54.6" y2="694.9" stroke="#000" stroke-width="1.3" stroke-linecap="butt"/>
<line x1="47.6" y1="709.2" x2="54.6" y2="709.2" stroke="#000" stroke-width="1.3" stroke-linecap="butt"/>
<line x1="57.0" y1="709.2" x2="57.0" y2="714.8" stroke="#000" stroke-width="1.3" stroke-linecap="butt"/>
<line x1="67.5" y1="709.2" x2="67.5" y2="712.2" stroke="#000" stroke-width="1.3" stroke-linecap="butt"/>
<line x1="78.0" y1="709.2" x2="78.0" y2="712.2" stroke="#000" stroke-width="1.3" stroke-linecap="butt"/>
<line x1="88.4" y1="709.2" x2="88.4" y2="712.2" stroke="#000" stroke-width="1.3" stroke-linecap="butt"/>
<line x1="98.9" y1="709.2" x2="98.9" y2="712.2" stroke="#000" stroke-width="1.3" stroke-linecap="butt"/>
<line x1="109.4" y1="709.2" x2="109.4" y2="714.8" stroke="#000" stroke-width="1.3" stroke-linecap="butt"/>
<line x1="119.9" y1="709.2" x2="119.9" y2="712.2" stroke="#000" stroke-width="1.3" stroke-linecap="butt"/>
<line x1="130.4" y1="709.2" x2="130.4" y2="712.2" stroke="#000" stroke-width="1.3" stroke-linecap="butt"/>
<line x1="140.8" y1="709.2" x2="140.8" y2="712.2" stroke="#000" stroke-width="1.3" stroke-linecap="butt"/>
<line x1="151.3" y1="709.2" x2="151.3" y2="712.2" stroke="#000" stroke-width="1.3" stroke-linecap="butt"/>
<line x1="161.8" y1="709.2" x2="161.8" y2="714.8" stroke="#000" stroke-width="1.3" stroke-linecap="butt"/>
<line x1="172.3" y1="709.2" x2="172.3" y2="712.2" stroke="#000" stroke-width="1.3" stroke-linecap="butt"/>
<line x1="182.8" y1="709.2" x2="182.8" y2="712.2" stroke="#000" stroke-width="1.3" stroke-linecap="butt"/>
<line x1="193.2" y1="709.2" x2="193.2" y2="712.2" stroke="#000" stroke-width="1.3" stroke-linecap="butt"/>
<line x1="203.7" y1="709.2" x2="203.7" y2="712.2" stroke="#000" stroke-width="1.3" stroke-linecap="butt"/>
<line x1="214.2" y1="709.2" x2="214.2" y2="714.8" stroke="#000" stroke-width="1.3" stroke-linecap="butt"/>
<line x1="224.7" y1="709.2" x2="224.7" y2="712.2" stroke="#000" stroke-width="1.3" stroke-linecap="butt"/>
<line x1="235.2" y1="709.2" x2="235.2" y2="712.2" stroke="#000" stroke-width="1.3" stroke-linecap="butt"/>
<line x1="245.6" y1="709.2" x2="245.6" y2="712.2" stroke="#000" stroke-width="1.3" stroke-linecap="butt"/>
<line x1="256.1" y1="709.2" x2="256.1" y2="712.2" stroke="#000" stroke-width="1.3" stroke-linecap="butt"/>
<line x1="266.6" y1="709.2" x2="266.6" y2="714.8" stroke="#000" stroke-width="1.3" stroke-linecap="butt"/>
<line x1="277.1" y1="709.2" x2="277.1" y2="712.2" stroke="#000" stroke-width="1.3" stroke-linecap="butt"/>
<line x1="287.6" y1="709.2" x2="287.6" y2="712.2" stroke="#000" stroke-width="1.3" stroke-linecap="butt"/>
<line x1="298.0" y1="709.2" x2="298.0" y2="712.2" stroke="#000" stroke-width="1.3" stroke-linecap="butt"/>
<line x1="308.5" y1="709.2" x2="308.5" y2="712.2" stroke="#000" stroke-width="1.3" stroke-linecap="butt"/>
<line x1="319.0" y1="709.2" x2="319.0" y2="714.8" stroke="#000" stroke-width="1.3" stroke-linecap="butt"/>
<polyline points="54.4,695.0 55.6,697.4 56.6,683.0 57.6,670.0 58.8,683.0 60.0,695.0 61.6,698.0 63.0,696.6 64.4,695.6 66.0,698.6 68.0,700.6 70.0,700.0 72.0,699.4 74.0,701.0 76.0,700.0 77.0,693.0 78.0,686.0 79.0,684.6 80.0,691.0 81.0,694.0 82.0,685.0 83.2,679.4 84.4,687.0 86.0,692.0 88.0,696.0 90.0,698.6 93.0,700.0 96.0,699.4 99.0,700.6 102.0,700.0 103.2,695.0 104.2,677.0 105.0,666.6 106.0,675.0 107.2,687.0 108.2,692.0 109.2,683.0 110.0,677.4 111.0,687.0 112.0,693.0 113.0,685.0 113.8,681.4 114.8,691.0 116.0,695.0 117.2,692.0 118.2,691.0 119.4,695.0 120.6,697.4 121.8,693.0 123.0,692.0 124.4,694.0 126.0,696.6 128.0,696.0 130.0,695.6 131.6,693.0 132.6,675.0 133.4,655.0 134.0,643.0 134.8,655.0 135.8,675.0 137.0,687.0 138.4,691.0 140.0,692.6 141.6,696.0 143.6,698.6 145.2,696.0 146.2,692.0 147.2,690.6 148.4,695.0 150.0,697.4 151.6,696.6 153.2,697.0 154.2,689.0 155.0,685.0 156.0,688.0 157.2,689.0 158.0,694.0 159.0,687.0 159.8,684.0 160.8,693.0 161.6,683.0 162.4,678.0 163.4,687.0 164.4,691.0 165.6,693.0 166.8,696.0 168.0,691.0 169.2,683.0 170.0,673.0 171.2,670.6 172.2,683.0 173.4,691.0 174.8,695.0 176.0,693.0 176.8,688.0 177.8,693.0 178.6,683.0 179.6,678.0 180.6,685.0 181.6,693.0 183.0,697.0 185.0,698.0 187.0,697.0 189.0,696.6 190.6,695.0 191.6,693.0 192.8,695.6 194.4,696.6 196.4,697.0 198.4,695.6 200.4,695.0 202.4,694.0 204.4,693.4 206.4,693.0 207.6,692.0 209.0,693.0 211.0,692.6 213.0,693.4 215.0,694.0 217.0,695.0 219.0,695.6 221.0,696.6 223.0,696.0 225.0,697.4 227.0,696.6 229.0,695.0 230.4,693.0 231.6,691.4 233.0,693.4 234.4,692.6 236.0,694.6 238.0,695.0 240.0,695.6 242.0,696.2 243.6,695.0 244.6,691.0 245.4,686.0 246.4,685.4 247.4,691.0 248.6,693.0 250.0,694.0 252.0,694.4 253.6,693.0 255.0,691.0 256.4,693.0 257.6,691.4 259.0,693.0 260.6,694.0 262.6,694.4 264.0,693.0 264.8,683.0 265.6,667.0 266.2,658.6 267.0,667.0 268.0,679.0 269.2,687.0 270.6,691.0 272.0,692.0 273.6,694.0 275.0,694.6 277.0,694.0 279.0,695.6 282.0,696.0 285.0,696.0 286.6,695.0 287.6,689.0 288.6,684.0 290.0,684.6 291.0,682.0 292.2,680.6 293.6,683.0 295.0,686.0 296.6,689.0 298.2,692.0 300.0,691.6 302.0,692.6 304.0,692.2 306.0,692.6 307.0,687.0 308.0,682.0 309.2,681.6 310.2,685.0 311.4,690.0 312.6,689.0 313.6,687.0 314.6,686.4 315.8,690.0 317.0,691.0 318.6,691.6" fill="none" stroke="#000" stroke-width="1.5" stroke-linejoin="round" stroke-linecap="round"/>
<line x1="357.2" y1="572.0" x2="357.2" y2="710.4" stroke="#000" stroke-width="1.4" stroke-linecap="butt"/>
<line x1="356.5" y1="709.8" x2="621.8" y2="709.8" stroke="#000" stroke-width="1.4" stroke-linecap="butt"/>
<line x1="350.2" y1="572.6" x2="357.2" y2="572.6" stroke="#000" stroke-width="1.3" stroke-linecap="butt"/>
<line x1="353.8" y1="586.3" x2="357.2" y2="586.3" stroke="#000" stroke-width="1.3" stroke-linecap="butt"/>
<line x1="353.8" y1="600.0" x2="357.2" y2="600.0" stroke="#000" stroke-width="1.3" stroke-linecap="butt"/>
<line x1="353.8" y1="613.8" x2="357.2" y2="613.8" stroke="#000" stroke-width="1.3" stroke-linecap="butt"/>
<line x1="353.8" y1="627.5" x2="357.2" y2="627.5" stroke="#000" stroke-width="1.3" stroke-linecap="butt"/>
<line x1="350.2" y1="641.2" x2="357.2" y2="641.2" stroke="#000" stroke-width="1.3" stroke-linecap="butt"/>
<line x1="353.8" y1="654.9" x2="357.2" y2="654.9" stroke="#000" stroke-width="1.3" stroke-linecap="butt"/>
<line x1="353.8" y1="668.6" x2="357.2" y2="668.6" stroke="#000" stroke-width="1.3" stroke-linecap="butt"/>
<line x1="353.8" y1="682.4" x2="357.2" y2="682.4" stroke="#000" stroke-width="1.3" stroke-linecap="butt"/>
<line x1="353.8" y1="696.1" x2="357.2" y2="696.1" stroke="#000" stroke-width="1.3" stroke-linecap="butt"/>
<line x1="350.2" y1="709.8" x2="357.2" y2="709.8" stroke="#000" stroke-width="1.3" stroke-linecap="butt"/>
<line x1="360.0" y1="709.8" x2="360.0" y2="715.4" stroke="#000" stroke-width="1.3" stroke-linecap="butt"/>
<line x1="370.4" y1="709.8" x2="370.4" y2="712.8" stroke="#000" stroke-width="1.3" stroke-linecap="butt"/>
<line x1="380.9" y1="709.8" x2="380.9" y2="712.8" stroke="#000" stroke-width="1.3" stroke-linecap="butt"/>
<line x1="391.3" y1="709.8" x2="391.3" y2="712.8" stroke="#000" stroke-width="1.3" stroke-linecap="butt"/>
<line x1="401.8" y1="709.8" x2="401.8" y2="712.8" stroke="#000" stroke-width="1.3" stroke-linecap="butt"/>
<line x1="412.2" y1="709.8" x2="412.2" y2="712.8" stroke="#000" stroke-width="1.3" stroke-linecap="butt"/>
<line x1="422.6" y1="709.8" x2="422.6" y2="712.8" stroke="#000" stroke-width="1.3" stroke-linecap="butt"/>
<line x1="433.1" y1="709.8" x2="433.1" y2="712.8" stroke="#000" stroke-width="1.3" stroke-linecap="butt"/>
<line x1="443.5" y1="709.8" x2="443.5" y2="712.8" stroke="#000" stroke-width="1.3" stroke-linecap="butt"/>
<line x1="454.0" y1="709.8" x2="454.0" y2="712.8" stroke="#000" stroke-width="1.3" stroke-linecap="butt"/>
<line x1="464.4" y1="709.8" x2="464.4" y2="715.4" stroke="#000" stroke-width="1.3" stroke-linecap="butt"/>
<line x1="474.8" y1="709.8" x2="474.8" y2="712.8" stroke="#000" stroke-width="1.3" stroke-linecap="butt"/>
<line x1="485.3" y1="709.8" x2="485.3" y2="712.8" stroke="#000" stroke-width="1.3" stroke-linecap="butt"/>
<line x1="495.7" y1="709.8" x2="495.7" y2="712.8" stroke="#000" stroke-width="1.3" stroke-linecap="butt"/>
<line x1="506.2" y1="709.8" x2="506.2" y2="712.8" stroke="#000" stroke-width="1.3" stroke-linecap="butt"/>
<line x1="516.6" y1="709.8" x2="516.6" y2="715.4" stroke="#000" stroke-width="1.3" stroke-linecap="butt"/>
<line x1="527.0" y1="709.8" x2="527.0" y2="712.8" stroke="#000" stroke-width="1.3" stroke-linecap="butt"/>
<line x1="537.5" y1="709.8" x2="537.5" y2="712.8" stroke="#000" stroke-width="1.3" stroke-linecap="butt"/>
<line x1="547.9" y1="709.8" x2="547.9" y2="712.8" stroke="#000" stroke-width="1.3" stroke-linecap="butt"/>
<line x1="558.4" y1="709.8" x2="558.4" y2="712.8" stroke="#000" stroke-width="1.3" stroke-linecap="butt"/>
<line x1="568.8" y1="709.8" x2="568.8" y2="715.4" stroke="#000" stroke-width="1.3" stroke-linecap="butt"/>
<line x1="579.2" y1="709.8" x2="579.2" y2="712.8" stroke="#000" stroke-width="1.3" stroke-linecap="butt"/>
<line x1="589.7" y1="709.8" x2="589.7" y2="712.8" stroke="#000" stroke-width="1.3" stroke-linecap="butt"/>
<line x1="600.1" y1="709.8" x2="600.1" y2="712.8" stroke="#000" stroke-width="1.3" stroke-linecap="butt"/>
<line x1="610.6" y1="709.8" x2="610.6" y2="712.8" stroke="#000" stroke-width="1.3" stroke-linecap="butt"/>
<line x1="621.0" y1="709.8" x2="621.0" y2="715.4" stroke="#000" stroke-width="1.3" stroke-linecap="butt"/>
<line x1="407.4" y1="709.8" x2="407.4" y2="715.4" stroke="#000" stroke-width="1.4" stroke-linecap="butt"/>
<polyline points="357.0,702.0 358.4,701.0 359.6,695.0 360.6,691.4 361.6,692.0 362.6,698.0 364.0,701.4 365.6,702.0 367.2,701.0 369.0,702.6 371.0,703.4 374.0,703.6 377.0,704.0 379.6,703.4 381.0,701.0 382.4,700.4 384.0,702.6 385.6,700.0 387.0,699.6 388.6,702.0 391.0,703.4 394.0,703.6 397.0,703.2 400.0,703.0 403.0,703.2 405.6,702.6 406.8,695.0 407.6,679.4 408.2,683.0 408.6,672.6 409.4,675.0 410.2,687.0 411.0,694.6 412.0,687.0 412.8,685.0 413.6,688.0 414.4,694.0 415.6,695.0 416.8,694.6 418.0,698.0 419.4,698.6 420.8,696.4 422.0,697.0 423.4,699.4 424.8,697.0 426.0,696.0 427.6,698.0 429.6,698.4 430.0,698.4 432.0,697.8 434.0,697.4 435.4,695.0 436.2,679.0 437.0,663.0 437.6,658.0 438.4,669.0 439.2,683.0 440.2,689.4 441.4,690.0 442.6,689.6 443.6,693.0 444.8,698.0 446.4,700.6 448.0,701.0 449.6,699.4 451.2,698.4 452.8,700.0 455.0,701.4 456.4,699.0 457.2,693.0 458.0,692.0 459.0,696.0 460.0,695.0 461.2,697.4 462.6,699.4 464.0,700.0 465.6,698.4 467.2,699.0 469.0,700.4 471.0,701.6 472.6,701.0 474.0,699.0 475.6,700.0 477.2,701.0 478.4,698.0 479.4,692.6 480.4,692.0 481.4,696.0 482.6,699.0 484.4,700.0 486.4,700.6 488.4,701.0 490.4,700.0 492.4,699.4 493.6,696.6 494.8,696.2 496.0,698.2 498.0,699.0 500.0,699.0 502.0,697.6 504.0,697.0 506.0,696.4 508.0,696.0 510.0,695.6 512.0,695.2 514.0,695.0 516.0,694.6 518.0,695.6 520.0,696.4 522.0,697.0 524.0,697.4 526.0,696.6 527.6,697.8 529.6,697.4 531.2,695.6 532.4,693.4 533.6,692.6 535.0,693.4 536.4,695.0 538.0,695.6 540.0,696.6 542.0,696.4 544.0,696.2 546.0,696.0 547.6,694.4 548.8,693.4 550.0,695.0 552.0,695.6 554.0,696.6 556.0,695.6 558.0,694.6 559.6,694.0 560.6,692.6 561.6,692.2 562.8,695.0 564.4,695.6 566.0,694.6 567.0,689.0 568.0,679.0 569.0,674.0 570.0,680.0 571.0,689.0 572.4,693.0 574.0,694.6 576.0,695.0 578.0,695.6 580.0,696.0 582.0,696.2 584.0,696.0 586.0,695.6 588.0,695.0 589.6,693.0 591.0,691.0 592.4,689.0 593.4,685.4 594.4,684.0 595.6,687.0 597.0,690.0 598.4,691.6 600.0,692.6 601.6,692.0 603.2,691.6 604.8,691.0 606.4,692.6 608.0,692.2 609.6,691.0 611.2,690.4 612.8,691.4 614.4,690.6 616.0,689.4 617.4,688.4 618.8,689.0 620.0,690.6 621.0,691.6" fill="none" stroke="#000" stroke-width="1.3" stroke-linejoin="round" stroke-linecap="round"/>
<text x="43.4" y="392.9" font-size="13.59" font-weight="bold" font-style="normal" text-anchor="end" fill="#000" font-family='"Liberation Sans", sans-serif' textLength="21.6" lengthAdjust="spacingAndGlyphs">100</text>
<text x="43.4" y="460.1" font-size="13.59" font-weight="bold" font-style="normal" text-anchor="end" fill="#000" font-family='"Liberation Sans", sans-serif' textLength="14.4" lengthAdjust="spacingAndGlyphs">50</text>
<text x="42.2" y="532.4" font-size="13.59" font-weight="bold" font-style="normal" text-anchor="end" fill="#000" font-family='"Liberation Sans", sans-serif' textLength="7.2" lengthAdjust="spacingAndGlyphs">0</text>
<text x="44.0" y="572.5" font-size="13.59" font-weight="bold" font-style="normal" text-anchor="end" fill="#000" font-family='"Liberation Sans", sans-serif' textLength="21.6" lengthAdjust="spacingAndGlyphs">100</text>
<text x="42.8" y="644.2" font-size="13.59" font-weight="bold" font-style="normal" text-anchor="end" fill="#000" font-family='"Liberation Sans", sans-serif' textLength="14.4" lengthAdjust="spacingAndGlyphs">50</text>
<text x="42.8" y="713.4" font-size="13.59" font-weight="bold" font-style="normal" text-anchor="end" fill="#000" font-family='"Liberation Sans", sans-serif' textLength="7.2" lengthAdjust="spacingAndGlyphs">0</text>
<text x="0.0" y="0.0" font-size="16.26" font-weight="bold" font-style="normal" text-anchor="start" fill="#000" font-family='"Liberation Sans", sans-serif' transform="translate(15.6,525.7) rotate(-90)" textLength="146.3" lengthAdjust="spacingAndGlyphs">Relative abundance</text>
<text x="0.0" y="0.0" font-size="16.26" font-weight="bold" font-style="normal" text-anchor="start" fill="#000" font-family='"Liberation Sans", sans-serif' transform="translate(16.0,702.6) rotate(-90)" textLength="146.3" lengthAdjust="spacingAndGlyphs">Relative abundance</text>
<text x="109.6" y="548.7" font-size="14.02" font-weight="bold" font-style="normal" text-anchor="middle" fill="#000" font-family='"Liberation Sans", sans-serif' textLength="7.6" lengthAdjust="spacingAndGlyphs">2</text>
<text x="213.6" y="548.7" font-size="14.02" font-weight="bold" font-style="normal" text-anchor="middle" fill="#000" font-family='"Liberation Sans", sans-serif' textLength="7.6" lengthAdjust="spacingAndGlyphs">4</text>
<text x="318.6" y="546.1" font-size="14.02" font-weight="bold" font-style="normal" text-anchor="middle" fill="#000" font-family='"Liberation Sans", sans-serif' textLength="7.6" lengthAdjust="spacingAndGlyphs">6</text>
<text x="401.6" y="548.9" font-size="14.02" font-weight="bold" font-style="normal" text-anchor="middle" fill="#000" font-family='"Liberation Sans", sans-serif' textLength="7.6" lengthAdjust="spacingAndGlyphs">2</text>
<text x="515.0" y="548.9" font-size="14.02" font-weight="bold" font-style="normal" text-anchor="middle" fill="#000" font-family='"Liberation Sans", sans-serif' textLength="7.6" lengthAdjust="spacingAndGlyphs">4</text>
<text x="615.6" y="546.9" font-size="14.02" font-weight="bold" font-style="normal" text-anchor="middle" fill="#000" font-family='"Liberation Sans", sans-serif' textLength="7.6" lengthAdjust="spacingAndGlyphs">6</text>
<text x="110.0" y="730.5" font-size="14.02" font-weight="bold" font-style="normal" text-anchor="middle" fill="#000" font-family='"Liberation Sans", sans-serif' textLength="7.6" lengthAdjust="spacingAndGlyphs">2</text>
<text x="213.2" y="730.5" font-size="14.02" font-weight="bold" font-style="normal" text-anchor="middle" fill="#000" font-family='"Liberation Sans", sans-serif' textLength="7.6" lengthAdjust="spacingAndGlyphs">4</text>
<text x="318.4" y="730.5" font-size="14.02" font-weight="bold" font-style="normal" text-anchor="middle" fill="#000" font-family='"Liberation Sans", sans-serif' textLength="7.6" lengthAdjust="spacingAndGlyphs">6</text>
<text x="411.6" y="730.5" font-size="14.02" font-weight="bold" font-style="normal" text-anchor="middle" fill="#000" font-family='"Liberation Sans", sans-serif' textLength="7.6" lengthAdjust="spacingAndGlyphs">2</text>
<text x="518.6" y="730.5" font-size="14.02" font-weight="bold" font-style="normal" text-anchor="middle" fill="#000" font-family='"Liberation Sans", sans-serif' textLength="7.6" lengthAdjust="spacingAndGlyphs">4</text>
<text x="618.2" y="730.5" font-size="14.02" font-weight="bold" font-style="normal" text-anchor="middle" fill="#000" font-family='"Liberation Sans", sans-serif' textLength="7.6" lengthAdjust="spacingAndGlyphs">6</text>
<text x="148.6" y="749.6" font-size="14.34" font-weight="bold" font-style="normal" text-anchor="start" fill="#000" font-family='"Liberation Sans", sans-serif' textLength="72.6" lengthAdjust="spacingAndGlyphs">Time (min)</text>
<text x="448.2" y="749.6" font-size="14.34" font-weight="bold" font-style="normal" text-anchor="start" fill="#000" font-family='"Liberation Sans", sans-serif' textLength="72.8" lengthAdjust="spacingAndGlyphs">Time (min)</text>
<polyline points="61.4,439.4 61.4,436.2 119.0,436.2 119.0,439.4" fill="none" stroke="#000" stroke-width="1.3" stroke-linejoin="round" stroke-linecap="butt"/>
<line x1="90.2" y1="436.2" x2="90.2" y2="433.0" stroke="#000" stroke-width="1.3" stroke-linecap="butt"/>
<polyline points="129.6,382.6 129.6,379.4 193.0,379.4 193.0,382.6" fill="none" stroke="#000" stroke-width="1.3" stroke-linejoin="round" stroke-linecap="butt"/>
<line x1="161.2" y1="379.4" x2="161.2" y2="376.2" stroke="#000" stroke-width="1.3" stroke-linecap="butt"/>
<polyline points="255.6,463.6 255.6,460.4 327.0,460.4 327.0,463.6" fill="none" stroke="#000" stroke-width="1.3" stroke-linejoin="round" stroke-linecap="butt"/>
<line x1="291.4" y1="460.4" x2="291.4" y2="457.2" stroke="#000" stroke-width="1.3" stroke-linecap="butt"/>
<polyline points="354.8,439.8 354.8,436.6 415.6,436.6 415.6,439.8" fill="none" stroke="#000" stroke-width="1.3" stroke-linejoin="round" stroke-linecap="butt"/>
<line x1="385.4" y1="436.6" x2="385.4" y2="433.4" stroke="#000" stroke-width="1.3" stroke-linecap="butt"/>
<polyline points="422.6,419.2 422.6,416.0 479.6,416.0 479.6,419.2" fill="none" stroke="#000" stroke-width="1.3" stroke-linejoin="round" stroke-linecap="butt"/>
<line x1="451.4" y1="416.0" x2="451.4" y2="412.8" stroke="#000" stroke-width="1.3" stroke-linecap="butt"/>
<polyline points="547.8,478.8 547.8,475.6 619.2,475.6 619.2,478.8" fill="none" stroke="#000" stroke-width="1.3" stroke-linejoin="round" stroke-linecap="butt"/>
<line x1="583.6" y1="475.6" x2="583.6" y2="472.4" stroke="#000" stroke-width="1.3" stroke-linecap="butt"/>
<text x="73.6" y="421.5" font-size="13.91" font-weight="bold" font-style="normal" text-anchor="start" fill="#000" font-family='"Liberation Sans", sans-serif' textLength="35.2" lengthAdjust="spacingAndGlyphs">iturin</text>
<text x="138.2" y="362.3" font-size="13.91" font-weight="bold" font-style="normal" text-anchor="start" fill="#000" font-family='"Liberation Sans", sans-serif' textLength="56.4" lengthAdjust="spacingAndGlyphs">fengycin</text>
<text x="264.6" y="445.9" font-size="13.91" font-weight="bold" font-style="normal" text-anchor="start" fill="#000" font-family='"Liberation Sans", sans-serif' textLength="59.4" lengthAdjust="spacingAndGlyphs">surfactin</text>
<text x="365.6" y="421.9" font-size="13.91" font-weight="bold" font-style="normal" text-anchor="start" fill="#000" font-family='"Liberation Sans", sans-serif' textLength="35.4" lengthAdjust="spacingAndGlyphs">iturin</text>
<text x="432.4" y="394.3" font-size="13.91" font-weight="bold" font-style="normal" text-anchor="start" fill="#000" font-family='"Liberation Sans", sans-serif' textLength="56.6" lengthAdjust="spacingAndGlyphs">fengycin</text>
<text x="554.0" y="461.3" font-size="13.91" font-weight="bold" font-style="normal" text-anchor="start" fill="#000" font-family='"Liberation Sans", sans-serif' textLength="59.0" lengthAdjust="spacingAndGlyphs">surfactin</text>
<text x="17.6" y="789.1" font-size="27.29" font-weight="bold" font-style="normal" text-anchor="start" fill="#000" font-family='"Liberation Sans", sans-serif' textLength="16.4" lengthAdjust="spacingAndGlyphs" stroke="#000" stroke-width="0.25">C</text>
<line x1="107.1" y1="801.0" x2="107.1" y2="1044.0" stroke="#000" stroke-width="3.5" stroke-linecap="butt"/>
<line x1="105.6" y1="1042.8" x2="592.8" y2="1042.8" stroke="#000" stroke-width="3.4" stroke-linecap="butt"/>
<line x1="107.1" y1="835.8" x2="114.2" y2="835.8" stroke="#000" stroke-width="2.8" stroke-linecap="butt"/>
<text x="86.2" y="842.6" font-size="18.6" font-weight="bold" font-style="normal" text-anchor="end" fill="#000" font-family='"Liberation Sans", sans-serif' stroke="#000" stroke-width="0.3" textLength="10.4" lengthAdjust="spacingAndGlyphs">6</text>
<line x1="107.1" y1="904.8" x2="114.2" y2="904.8" stroke="#000" stroke-width="2.8" stroke-linecap="butt"/>
<text x="86.2" y="911.6" font-size="18.6" font-weight="bold" font-style="normal" text-anchor="end" fill="#000" font-family='"Liberation Sans", sans-serif' stroke="#000" stroke-width="0.3" textLength="10.4" lengthAdjust="spacingAndGlyphs">4</text>
<line x1="107.1" y1="973.8" x2="114.2" y2="973.8" stroke="#000" stroke-width="2.8" stroke-linecap="butt"/>
<text x="86.2" y="980.6" font-size="18.6" font-weight="bold" font-style="normal" text-anchor="end" fill="#000" font-family='"Liberation Sans", sans-serif' stroke="#000" stroke-width="0.3" textLength="10.4" lengthAdjust="spacingAndGlyphs">2</text>
<text x="86.2" y="1049.6" font-size="18.6" font-weight="bold" font-style="normal" text-anchor="end" fill="#000" font-family='"Liberation Sans", sans-serif' stroke="#000" stroke-width="0.3" textLength="10.4" lengthAdjust="spacingAndGlyphs">0</text>
<line x1="187.4" y1="1042.8" x2="187.4" y2="1047.6" stroke="#000" stroke-width="2.8" stroke-linecap="butt"/>
<line x1="348.4" y1="1042.8" x2="348.4" y2="1047.6" stroke="#000" stroke-width="2.8" stroke-linecap="butt"/>
<line x1="509.4" y1="1042.8" x2="509.4" y2="1047.6" stroke="#000" stroke-width="2.8" stroke-linecap="butt"/>
<line x1="591.4" y1="1042.8" x2="591.4" y2="1047.6" stroke="#000" stroke-width="2.8" stroke-linecap="butt"/>
<text x="0.0" y="0.0" font-size="19.26" font-weight="bold" font-style="normal" text-anchor="start" fill="#000" font-family='"Liberation Sans", sans-serif' transform="translate(40.4,1046.2) rotate(-90)" textLength="221" lengthAdjust="spacingAndGlyphs" stroke="#000" stroke-width="0.25">Relative gene expression</text>
<text x="0.0" y="0.0" font-size="19.26" font-weight="bold" font-style="normal" text-anchor="start" fill="#000" font-family='"Liberation Sans", sans-serif' transform="translate(67.1,995.0) rotate(-90)" textLength="117.7" lengthAdjust="spacingAndGlyphs" stroke="#000" stroke-width="0.25">(fold change)</text>
<g transform="translate(127.95,1041.40)"><rect x="0.00" y="-32.45" width="27.5" height="32.4" fill="url(#dt1)" stroke="#000" stroke-width="1.7"/></g>
<line x1="141.7" y1="1008.9" x2="141.7" y2="1004.4" stroke="#000" stroke-width="2.4" stroke-linecap="butt"/>
<line x1="137.4" y1="1004.7" x2="146.0" y2="1004.7" stroke="#000" stroke-width="2.6" stroke-linecap="butt"/>
<g transform="translate(165.10,950.40)"><rect x="-6.45" y="-3.55" width="27.1" height="94.5" fill="url(#ck1)" stroke="#000" stroke-width="1.7"/></g>
<line x1="172.2" y1="946.8" x2="172.2" y2="939.0" stroke="#000" stroke-width="2.4" stroke-linecap="butt"/>
<line x1="167.9" y1="939.3" x2="176.5" y2="939.3" stroke="#000" stroke-width="2.6" stroke-linecap="butt"/>
<g transform="translate(188.85,1041.40)"><rect x="0.00" y="-32.45" width="27.5" height="32.4" fill="url(#dt2)" stroke="#000" stroke-width="1.7"/></g>
<line x1="202.6" y1="1008.9" x2="202.6" y2="1001.0" stroke="#000" stroke-width="2.4" stroke-linecap="butt"/>
<line x1="198.3" y1="1001.3" x2="206.9" y2="1001.3" stroke="#000" stroke-width="2.6" stroke-linecap="butt"/>
<g transform="translate(225.10,956.05)"><rect x="-5.35" y="-2.30" width="27.3" height="87.6" fill="url(#ck2)" stroke="#000" stroke-width="1.7"/></g>
<line x1="233.4" y1="953.7" x2="233.4" y2="941.8" stroke="#000" stroke-width="2.4" stroke-linecap="butt"/>
<line x1="229.1" y1="942.1" x2="237.7" y2="942.1" stroke="#000" stroke-width="2.6" stroke-linecap="butt"/>
<g transform="translate(288.85,1041.40)"><rect x="0.00" y="-32.45" width="27.9" height="32.4" fill="url(#dt1)" stroke="#000" stroke-width="1.7"/></g>
<line x1="302.8" y1="1008.9" x2="302.8" y2="1001.2" stroke="#000" stroke-width="2.4" stroke-linecap="butt"/>
<line x1="298.5" y1="1001.5" x2="307.1" y2="1001.5" stroke="#000" stroke-width="2.6" stroke-linecap="butt"/>
<g transform="translate(328.90,851.77)"><rect x="-9.35" y="1.93" width="27.2" height="187.7" fill="url(#ck1)" stroke="#000" stroke-width="1.7"/></g>
<line x1="333.1" y1="853.7" x2="333.1" y2="842.0" stroke="#000" stroke-width="2.4" stroke-linecap="butt"/>
<line x1="328.8" y1="842.3" x2="337.4" y2="842.3" stroke="#000" stroke-width="2.6" stroke-linecap="butt"/>
<g transform="translate(349.85,1041.40)"><rect x="0.00" y="-32.45" width="27.8" height="32.4" fill="url(#dt2)" stroke="#000" stroke-width="1.7"/></g>
<line x1="363.8" y1="1008.9" x2="363.8" y2="997.6" stroke="#000" stroke-width="2.4" stroke-linecap="butt"/>
<line x1="359.4" y1="997.9" x2="368.1" y2="997.9" stroke="#000" stroke-width="2.6" stroke-linecap="butt"/>
<g transform="translate(389.10,879.00)"><rect x="-8.45" y="-1.15" width="27.5" height="163.5" fill="url(#ck2)" stroke="#000" stroke-width="1.7"/></g>
<line x1="394.4" y1="877.8" x2="394.4" y2="870.0" stroke="#000" stroke-width="2.4" stroke-linecap="butt"/>
<line x1="390.1" y1="870.3" x2="398.7" y2="870.3" stroke="#000" stroke-width="2.6" stroke-linecap="butt"/>
<g transform="translate(449.85,1041.40)"><rect x="0.00" y="-32.45" width="27.9" height="32.4" fill="url(#dt1)" stroke="#000" stroke-width="1.7"/></g>
<line x1="463.8" y1="1008.9" x2="463.8" y2="1004.4" stroke="#000" stroke-width="2.4" stroke-linecap="butt"/>
<line x1="459.5" y1="1004.7" x2="468.1" y2="1004.7" stroke="#000" stroke-width="2.6" stroke-linecap="butt"/>
<g transform="translate(487.60,977.65)"><rect x="-7.15" y="0.25" width="27.6" height="63.5" fill="url(#ck1)" stroke="#000" stroke-width="1.7"/></g>
<line x1="494.2" y1="977.9" x2="494.2" y2="971.9" stroke="#000" stroke-width="2.4" stroke-linecap="butt"/>
<line x1="489.9" y1="972.2" x2="498.6" y2="972.2" stroke="#000" stroke-width="2.6" stroke-linecap="butt"/>
<g transform="translate(511.25,1041.40)"><rect x="0.00" y="-32.45" width="27.4" height="32.4" fill="url(#dt2)" stroke="#000" stroke-width="1.7"/></g>
<line x1="525.0" y1="1008.9" x2="525.0" y2="1003.0" stroke="#000" stroke-width="2.4" stroke-linecap="butt"/>
<line x1="520.7" y1="1003.3" x2="529.2" y2="1003.3" stroke="#000" stroke-width="2.6" stroke-linecap="butt"/>
<g transform="translate(548.00,983.70)"><rect x="-6.25" y="1.10" width="27.7" height="56.6" fill="url(#ck2)" stroke="#000" stroke-width="1.7"/></g>
<line x1="555.6" y1="984.8" x2="555.6" y2="979.1" stroke="#000" stroke-width="2.4" stroke-linecap="butt"/>
<line x1="551.3" y1="979.4" x2="559.9" y2="979.4" stroke="#000" stroke-width="2.6" stroke-linecap="butt"/>
<polyline points="141.4,983.0 141.4,891.4 173.0,891.4 173.0,929.8" fill="none" stroke="#000" stroke-width="2" stroke-linejoin="round" stroke-linecap="butt"/>
<polyline points="201.3,984.2 201.3,891.4 232.9,891.4 232.9,929.8" fill="none" stroke="#000" stroke-width="2" stroke-linejoin="round" stroke-linecap="butt"/>
<polyline points="302.0,981.8 302.0,811.5 333.1,811.5 333.1,838.0" fill="none" stroke="#000" stroke-width="2" stroke-linejoin="round" stroke-linecap="butt"/>
<polyline points="363.9,977.0 363.9,834.1 394.9,834.1 394.9,860.0" fill="none" stroke="#000" stroke-width="2" stroke-linejoin="round" stroke-linecap="butt"/>
<polyline points="462.4,989.2 462.4,930.0 492.8,930.0 492.8,956.2" fill="none" stroke="#000" stroke-width="2" stroke-linejoin="round" stroke-linecap="butt"/>
<polyline points="524.2,995.6 524.2,937.0 555.2,937.0 555.2,962.6" fill="none" stroke="#000" stroke-width="2" stroke-linejoin="round" stroke-linecap="butt"/>
<text x="158.1" y="894.2" font-size="26.5" font-weight="bold" font-style="normal" text-anchor="middle" fill="#000" font-family='"Liberation Serif", serif' letter-spacing="0.9">**</text>
<text x="218.0" y="892.3" font-size="26.5" font-weight="bold" font-style="normal" text-anchor="middle" fill="#000" font-family='"Liberation Serif", serif' letter-spacing="0.9">**</text>
<text x="317.1" y="811.7" font-size="26.5" font-weight="bold" font-style="normal" text-anchor="middle" fill="#000" font-family='"Liberation Serif", serif' letter-spacing="0.9">**</text>
<text x="380.0" y="833.5" font-size="26.5" font-weight="bold" font-style="normal" text-anchor="middle" fill="#000" font-family='"Liberation Serif", serif' letter-spacing="0.9">**</text>
<text x="479.8" y="930.5" font-size="26.5" font-weight="bold" font-style="normal" text-anchor="middle" fill="#000" font-family='"Liberation Serif", serif' letter-spacing="0.9">*</text>
<text x="539.6" y="937.9" font-size="26.5" font-weight="bold" font-style="normal" text-anchor="middle" fill="#000" font-family='"Liberation Serif", serif' letter-spacing="0.9">*</text>
<text x="170.0" y="1077.3" font-size="19.8" font-weight="bold" font-style="italic" text-anchor="start" fill="#000" font-family='"Liberation Sans", sans-serif' textLength="36.0" lengthAdjust="spacingAndGlyphs" stroke="#000" stroke-width="0.25">ituC</text>
<text x="326.8" y="1077.3" font-size="19.8" font-weight="bold" font-style="italic" text-anchor="start" fill="#000" font-family='"Liberation Sans", sans-serif' textLength="43.2" lengthAdjust="spacingAndGlyphs" stroke="#000" stroke-width="0.25">fenD</text>
<text x="485.8" y="1076.7" font-size="19.8" font-weight="bold" font-style="italic" text-anchor="start" fill="#000" font-family='"Liberation Sans", sans-serif' textLength="48.0" lengthAdjust="spacingAndGlyphs" stroke="#000" stroke-width="0.25">srfAB</text>
<rect x="499.1" y="802.1" width="11.8" height="11.8" fill="#fff"/>
<rect x="504.3" y="804.6" width="1.4" height="1.4" fill="#444"/>
<rect x="504.3" y="810.0" width="1.4" height="1.4" fill="#444"/>
<rect x="499.3" y="807.3" width="1.4" height="1.4" fill="#444"/>
<rect x="499.3" y="812.5" width="1.4" height="1.4" fill="#444"/>
<rect x="499.1" y="802.1" width="11.8" height="11.8" fill="none" stroke="#000" stroke-width="2.0"/>
<text x="516.9" y="814.3" font-size="19.26" font-weight="bold" font-style="normal" text-anchor="start" fill="#000" font-family='"Liberation Sans", sans-serif' textLength="21.0" lengthAdjust="spacingAndGlyphs" stroke="#000" stroke-width="0.25">Y6</text>
<rect x="499.1" y="829.8" width="11.8" height="11.8" fill="#fff"/>
<rect x="505.2" y="829.8" width="5.7" height="5.9" fill="#808080"/><rect x="499.1" y="835.7" width="6.1" height="5.9" fill="#808080"/>
<rect x="499.1" y="829.8" width="11.8" height="11.8" fill="none" stroke="#000" stroke-width="2.0"/>
<text x="516.9" y="842.0" font-size="19.26" font-weight="bold" font-style="normal" text-anchor="start" fill="#000" font-family='"Liberation Sans", sans-serif' textLength="63.3" lengthAdjust="spacingAndGlyphs" stroke="#000" stroke-width="0.25">Y6 + Rs</text>
<rect x="499.1" y="857.3" width="11.8" height="11.8" fill="#bdbdbd"/>
<rect x="504.3" y="859.8" width="1.4" height="1.4" fill="#111"/>
<rect x="504.3" y="865.2" width="1.4" height="1.4" fill="#111"/>
<rect x="499.3" y="862.5" width="1.4" height="1.4" fill="#111"/>
<rect x="499.3" y="867.7" width="1.4" height="1.4" fill="#111"/>
<rect x="499.1" y="857.3" width="11.8" height="11.8" fill="none" stroke="#000" stroke-width="2.0"/>
<text x="517.8" y="869.5" font-size="19.26" font-weight="bold" font-style="normal" text-anchor="start" fill="#000" font-family='"Liberation Sans", sans-serif' textLength="18.6" lengthAdjust="spacingAndGlyphs" stroke="#000" stroke-width="0.25">F7</text>
<rect x="499.1" y="885.0" width="11.8" height="11.8" fill="#000"/>
<rect x="499.1" y="885.0" width="6.1" height="5.9" fill="#b4b4b4"/><rect x="505.2" y="890.9" width="5.7" height="5.9" fill="#b4b4b4"/>
<rect x="499.1" y="885.0" width="11.8" height="11.8" fill="none" stroke="#000" stroke-width="2.0"/>
<text x="517.8" y="897.2" font-size="19.26" font-weight="bold" font-style="normal" text-anchor="start" fill="#000" font-family='"Liberation Sans", sans-serif' textLength="61.4" lengthAdjust="spacingAndGlyphs" stroke="#000" stroke-width="0.25">F7 + Rs</text>
</svg>
</body></html>
